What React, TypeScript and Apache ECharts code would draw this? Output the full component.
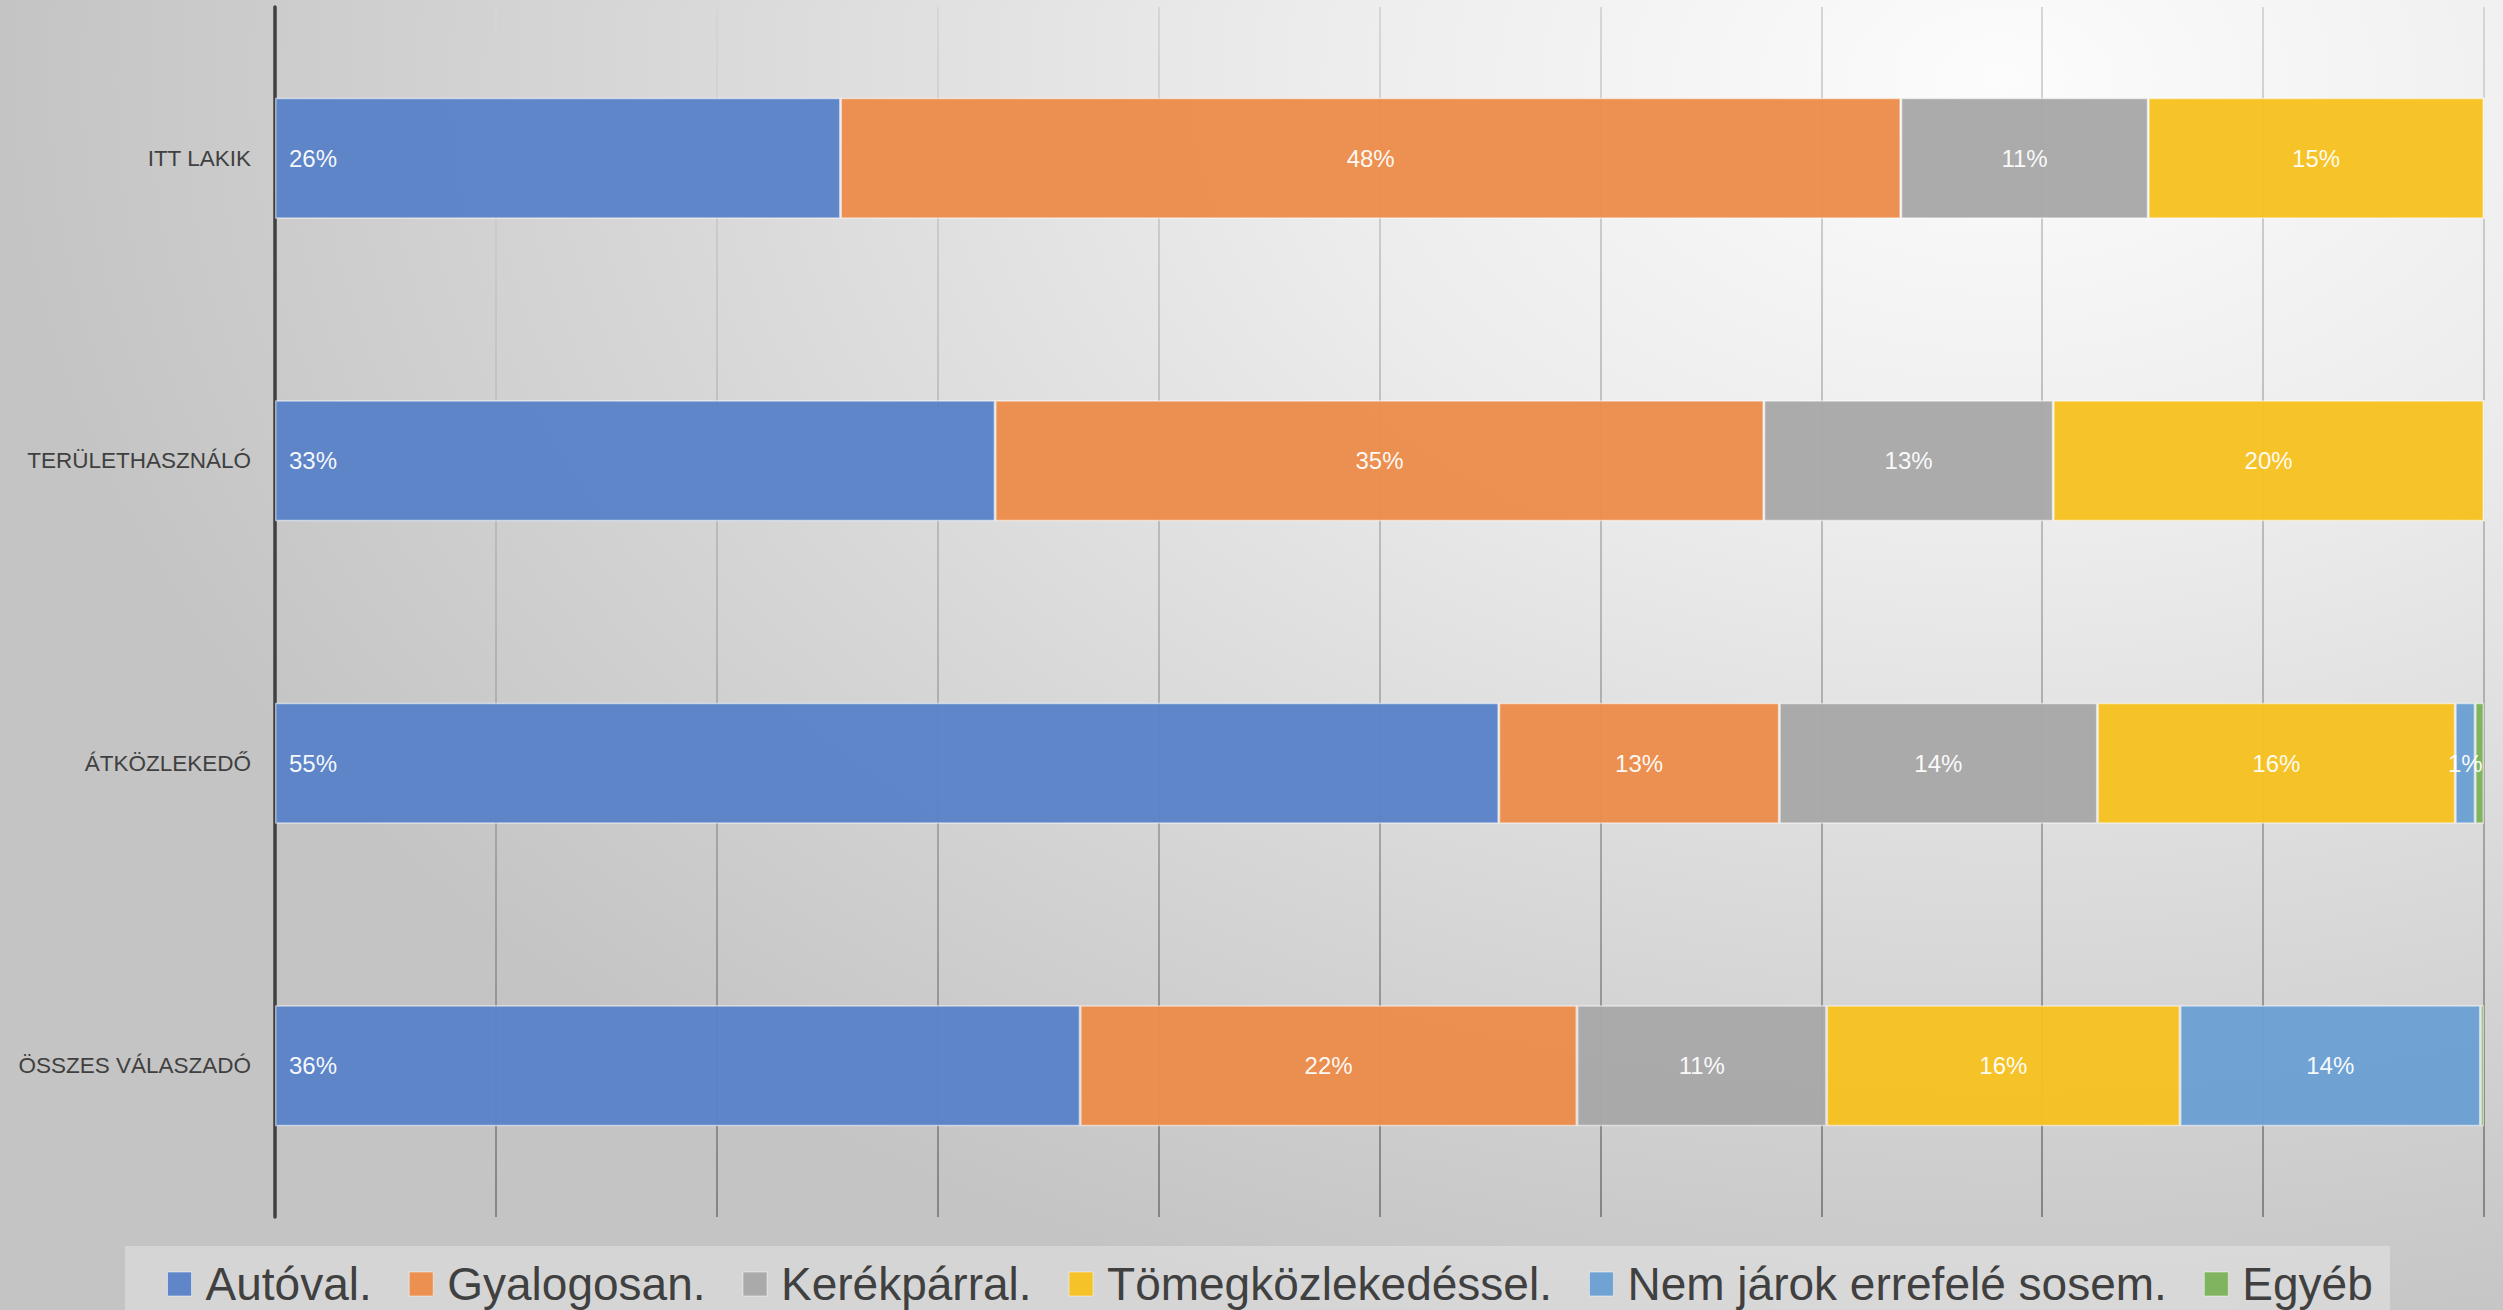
import React, { useEffect, useRef } from "react";
import * as echarts from "echarts";

const categories = ["ITT LAKIK", "TERÜLETHASZNÁLÓ", "ÁTKÖZLEKEDŐ", "ÖSSZES VÁLASZADÓ"];
const seriesNames = [
  "Autóval.",
  "Gyalogosan.",
  "Kerékpárral.",
  "Tömegközlekedéssel.",
  "Nem járok errefelé sosem.",
  "Egyéb",
];
const autoval = [25.6, 32.6, 55.4, 36.45];
const gyalogosan = [48.0, 34.8, 12.7, 22.49];
const kerekparral = [11.2, 13.1, 14.4, 11.3];
const tomeg = [15.2, 19.5, 16.2, 16.0];
const nemJarok = [0, 0, 0.9, 13.6];
const egyeb = [0, 0, 0.4, 0.16];
const xTicks = [0, 10, 20, 30, 40, 50, 60, 70, 80, 90, 100];

const colors = ["#5a82c8", "#ec8c4b", "#a8a8a8", "#f6c11f", "#6ba0d3", "#7cb25a"];
const FONT = "'Liberation Sans', Arial, Helvetica, sans-serif";

export default function App() {
  const ref = useRef<HTMLDivElement>(null);

  useEffect(() => {
    document.body.style.margin = "0";
    if (!ref.current) return;
    const chart = echarts.init(ref.current, undefined, { renderer: "svg" });
    const allData = [autoval, gyalogosan, kerekparral, tomeg, nemJarok, egyeb];

    const series = allData.map((d, i) => ({
      name: seriesNames[i],
      type: "bar",
      stack: "total",
      data: d,
      barCategoryGap: "60%",
      itemStyle: {
        color: colors[i],
        opacity: 0.96,
        borderColor: "rgba(255,255,255,0.55)",
        borderWidth: 1.5,
      },
      label: {
        show: true,
        position: i === 0 ? "insideLeft" : "inside",
        distance: 14,
        color: "#ffffff",
        fontSize: 24,
        fontFamily: FONT,
        formatter: (p: any) => (p.value < 0.5 ? "" : Math.round(p.value) + "%"),
      },
    }));

    chart.setOption({
      animation: false,
      color: colors,
      backgroundColor: "transparent",
      grid: { left: 275, right: 19, top: 7, bottom: 93, containLabel: false },
      xAxis: {
        type: "value",
        min: xTicks[0],
        max: xTicks[xTicks.length - 1],
        interval: 10,
        axisLabel: { show: false },
        axisLine: { show: false },
        axisTick: { show: false },
        splitLine: {
          show: true,
          lineStyle: {
            width: 2,
            color: new echarts.graphic.LinearGradient(
              0, 7, 0, 1217,
              [
                { offset: 0, color: "#d6d6d6" },
                { offset: 0.5, color: "#b6b6b6" },
                { offset: 1, color: "#858585" },
              ],
              true
            ),
          },
        },
      },
      yAxis: {
        type: "category",
        data: categories,
        inverse: true,
        axisLine: { show: true, lineStyle: { color: "#404040", width: 3.5 } },
        axisTick: { show: false },
        axisLabel: {
          color: "#404040",
          fontSize: 22.5,
          fontFamily: FONT,
          margin: 24,
        },
        splitLine: { show: false },
      },
      legend: {
        show: true,
        left: 162,
        top: 1254,
        itemWidth: 24,
        itemHeight: 24,
        itemGap: 37,
        icon: "rect",
        data: seriesNames,
        itemStyle: { borderColor: "rgba(255,255,255,0.5)", borderWidth: 1 },
        textStyle: {
          color: "#404040",
          fontSize: 46,
          fontFamily: FONT,
          lineHeight: 50,
          padding: [0, 0, 0, 9],
        },
      },
      graphic: [
        {
          type: "rect",
          z: -10,
          silent: true,
          shape: { x: 125, y: 1246, width: 2265, height: 70 },
          style: { fill: "rgba(240,240,240,0.4)" },
        },
      ],
      series,
    });

    return () => chart.dispose();
  }, []);

  return (
    <div
      style={{
        position: "absolute",
        left: 0,
        top: 0,
        width: 2503,
        height: 1310,
        background:
          "radial-gradient(ellipse 80% 100% at 80% 6%, #fcfcfc 0%, #ececec 35%, #d6d6d6 70%, #c4c4c4 100%)",
      }}
    >
      <div ref={ref} style={{ width: 2503, height: 1310 }} />
    </div>
  );
}
